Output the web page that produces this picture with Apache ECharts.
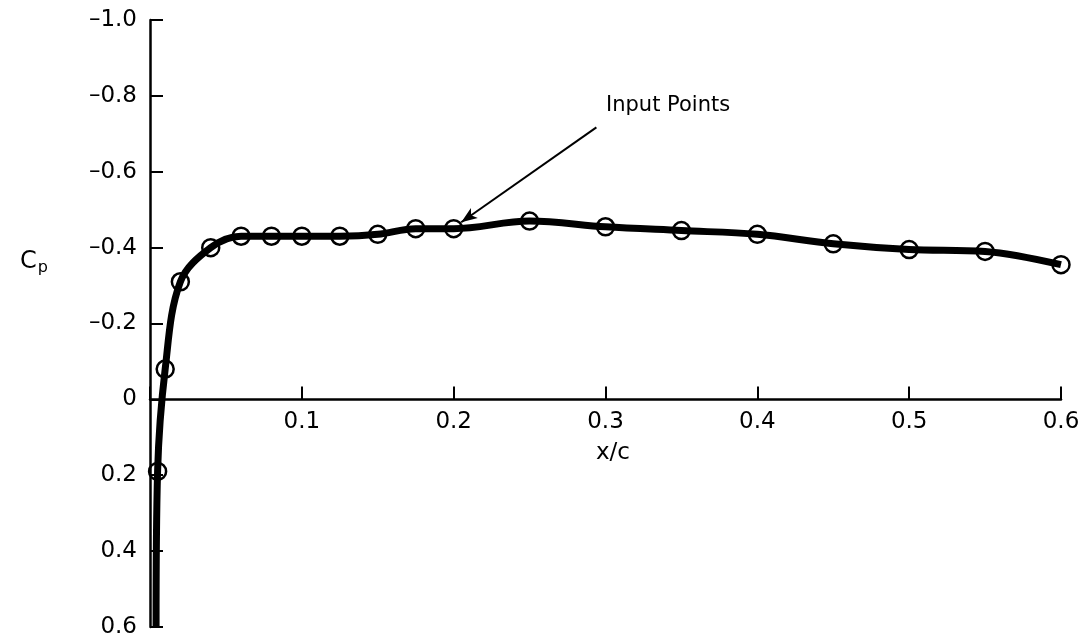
<!DOCTYPE html>
<html>
<head>
<meta charset="utf-8">
<title>Cp vs x/c</title>
<script src="https://cdn.jsdelivr.net/npm/echarts@6/dist/echarts.min.js"></script>
<style>
  html, body { margin: 0; padding: 0; background: #fff; overflow: hidden; }
  #chart { width: 1082px; height: 641px; }
</style>
</head>
<body>
<div id="chart"></div>
<script>
// where the curve leaves the bottom of the plot (no marker drawn there)
const curveEndX = 0.004;
const curveEndCp = 0.6;

// input points (circles)
const inputX = [0.005, 0.01, 0.02, 0.04, 0.06, 0.08, 0.10, 0.125, 0.15, 0.175, 0.2,
  0.25, 0.3, 0.35, 0.4, 0.45, 0.5, 0.55, 0.6];
const inputCp = [0.19, -0.08, -0.31, -0.40, -0.43, -0.43, -0.43, -0.43, -0.435, -0.45, -0.45,
  -0.47, -0.455, -0.445, -0.435, -0.41, -0.395, -0.39, -0.355];

// annotation arrow: from label towards a point on the curve
const arrowFrom = [0.294, -0.717];
const arrowTo = [0.205, -0.467];

const FONT = 'DejaVu Sans';

// plot box (pixels)
const GRID_TOP = 20;
const GRID_H = 607;
const Y_MIN = -1.0;
const Y_MAX = 0.6;
// the x axis sits on Cp = 0, so shift it up from the bottom edge
const xAxisShift = GRID_H * (Y_MAX - 0) / (Y_MAX - Y_MIN);

const chart = echarts.init(document.getElementById('chart'), null, { renderer: 'canvas' });

const seriesData = [{ value: [curveEndX, curveEndCp], symbol: 'none' }];
inputX.forEach((x, i) => seriesData.push([x, inputCp[i]]));

// tick labels use an en dash for the minus sign, like the original
function yLabel(v) {
  const r = Math.round(v * 10) / 10;
  if (r === 0) return '0';
  return (r < 0 ? '\u2013' : '') + Math.abs(r).toFixed(1);
}

chart.setOption({
  animation: false,
  backgroundColor: '#fff',
  grid: {
    left: 150,
    top: GRID_TOP,
    width: 911,
    height: GRID_H,
    outerBoundsMode: 'none'
  },
  xAxis: {
    type: 'value',
    min: 0,
    max: 0.6,
    interval: 0.1,
    offset: -xAxisShift,
    axisLine: { show: true, onZero: false, lineStyle: { color: '#000', width: 2.5 } },
    axisTick: { show: true, inside: true, length: 13, lineStyle: { color: '#000', width: 2 } },
    axisLabel: {
      margin: 11,
      color: '#000',
      fontFamily: FONT,
      fontSize: 23,
      formatter: v => (v === 0 ? '' : String(Math.round(v * 10) / 10))
    },
    splitLine: { show: false }
  },
  yAxis: {
    type: 'value',
    inverse: true,
    min: Y_MIN,
    max: Y_MAX,
    interval: 0.2,
    axisLine: { show: true, onZero: false, lineStyle: { color: '#000', width: 2.5 } },
    axisTick: { show: true, inside: true, length: 13, lineStyle: { color: '#000', width: 2 } },
    axisLabel: {
      margin: 13,
      color: '#000',
      fontFamily: FONT,
      fontSize: 23,
      formatter: yLabel
    },
    splitLine: { show: false }
  },
  graphic: [
    {
      type: 'text',
      left: 596,
      top: 442,
      style: { text: 'x/c', fill: '#000', font: '23px "DejaVu Sans"' }
    },
    {
      type: 'text',
      left: 20,
      top: 250,
      style: {
        text: '{c|C}{p|p}',
        rich: {
          c: { fontFamily: FONT, fontSize: 24, fill: '#000' },
          p: { fontFamily: FONT, fontSize: 16, fill: '#000', padding: [12, 0, 0, 1] }
        }
      }
    },
    {
      type: 'text',
      left: 606,
      top: 95,
      style: { text: 'Input Points', fill: '#000', font: '21px "DejaVu Sans"' }
    }
  ],
  series: [
    {
      type: 'line',
      data: seriesData,
      smooth: 0.35,
      symbol: 'circle',
      symbolSize: 17,
      itemStyle: { color: 'rgba(255,255,255,0)', borderColor: '#000', borderWidth: 2.5 },
      lineStyle: { color: '#000', width: 7 },
      z: 3,
      markLine: {
        silent: true,
        symbol: ['none', 'arrow'],
        symbolSize: [9, 16],
        label: { show: false },
        lineStyle: { color: '#000', width: 2, type: 'solid' },
        data: [[{ coord: arrowFrom }, { coord: arrowTo }]]
      }
    }
  ]
});
</script>
</body>
</html>
